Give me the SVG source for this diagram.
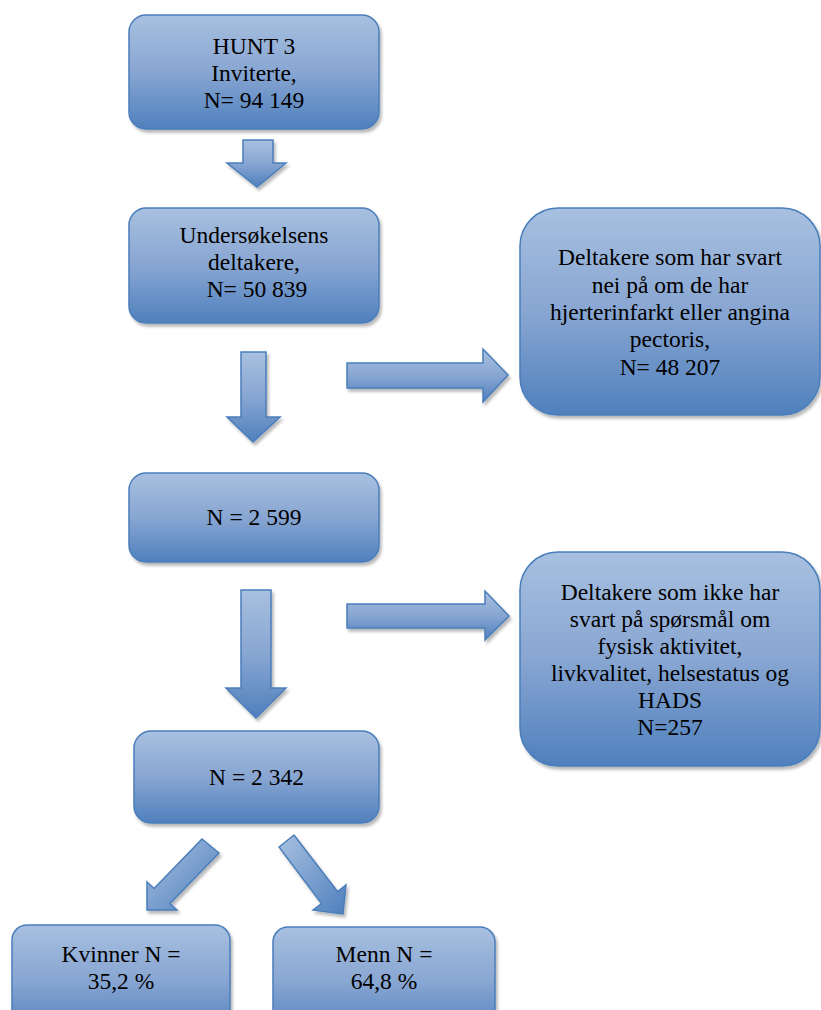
<svg xmlns="http://www.w3.org/2000/svg" width="821" height="1010" viewBox="0 0 821 1010">
<defs>
<linearGradient id="g" x1="0" y1="0" x2="0" y2="1">
<stop offset="0" stop-color="#a8c0e0"/>
<stop offset="0.5" stop-color="#88a6d2"/>
<stop offset="1" stop-color="#4f80bd"/>
</linearGradient>
<linearGradient id="ga" x1="0" y1="0" x2="1" y2="1">
<stop offset="0" stop-color="#a8c0e0"/>
<stop offset="1" stop-color="#4f80bd"/>
</linearGradient>
<filter id="sh" x="-10%" y="-10%" width="125%" height="130%">
<feGaussianBlur in="SourceAlpha" stdDeviation="1.5"/>
<feOffset dx="2" dy="3" result="b"/>
<feFlood flood-color="#000" flood-opacity="0.28"/>
<feComposite in2="b" operator="in"/>
<feMerge><feMergeNode/><feMergeNode in="SourceGraphic"/></feMerge>
</filter>
<style>
.box{fill:url(#g);stroke:#4a7ebb;stroke-width:1.5;filter:url(#sh)}
.arr{fill:url(#g);stroke:#4a7ebb;stroke-width:1.5;stroke-linejoin:miter;filter:url(#sh)}
.arrd{fill:url(#ga);stroke:#4a7ebb;stroke-width:1.5;filter:url(#sh)}
.t{font-family:'Liberation Serif','DejaVu Serif',serif;font-size:23.5px;fill:#000;text-anchor:middle}
</style>
</defs>
<rect width="821" height="1010" fill="#fff"/>
<g id="connectors">
<polygon class="arr" points="243,140 273,140 273,163 286,163 257,187 227,163 243,163"/>
<polygon class="arr" points="241,352 266,352 266,417 280,417 253,442 227,417 241,417"/>
<polygon class="arr" points="241,590 271,590 271,688 286,688 256,718 226,688 241,688"/>
<polygon class="arr" points="347,363 483,363 483,349 508,375 483,402 483,388 347,388"/>
<polygon class="arr" points="347,604 485,604 485,591 509,616 485,640 485,628 347,628"/>
<polygon class="arrd" points="202,839 219,853 170,903.5 177,910 147,910 147,882 154,888.5"/>
<polygon class="arrd" points="279,847 294,835 337.5,891.5 346,885 343,914 313,910 321.5,903.5"/>
</g>
<g id="n1">
<rect class="box" x="129" y="15" width="250" height="114" rx="17"/>
<text class="t" font-family="Liberation Serif, serif" x="254" y="54">HUNT 3</text>
<text class="t" font-family="Liberation Serif, serif" x="254" y="81">Inviterte,</text>
<text class="t" font-family="Liberation Serif, serif" x="254" y="108">N= 94 149</text>
</g>
<g id="n2">
<rect class="box" x="129" y="208" width="250" height="115" rx="17"/>
<text class="t" x="254" y="243">Undersøkelsens</text>
<text class="t" x="254" y="270">deltakere,</text>
<text class="t" x="257" y="297">N= 50 839</text>
</g>
<g id="n3">
<rect class="box" x="520" y="208" width="300" height="207" rx="38"/>
<text class="t" x="670" y="265">Deltakere som har svart</text>
<text class="t" x="670" y="293">nei på om de har</text>
<text class="t" x="670" y="320">hjerterinfarkt eller angina</text>
<text class="t" x="670" y="347">pectoris,</text>
<text class="t" x="670" y="375">N= 48 207</text>
</g>
<g id="n4">
<rect class="box" x="129" y="473" width="250" height="89" rx="17"/>
<text class="t" x="254" y="525">N = 2 599</text>
</g>
<g id="n5">
<rect class="box" x="520" y="552" width="300" height="214" rx="38"/>
<text class="t" x="670" y="600">Deltakere som ikke har</text>
<text class="t" x="670" y="627">svart på spørsmål om</text>
<text class="t" x="670" y="654">fysisk aktivitet,</text>
<text class="t" x="670" y="681">livkvalitet, helsestatus og</text>
<text class="t" x="670" y="708">HADS</text>
<text class="t" x="670" y="735">N=257</text>
</g>
<g id="n6">
<rect class="box" x="134" y="731" width="245" height="92" rx="17"/>
<text class="t" x="256.5" y="785">N = 2 342</text>
</g>
<g id="n7">
<rect class="box" x="12" y="925" width="218" height="110" rx="15"/>
<text class="t" x="121" y="962">Kvinner N =</text>
<text class="t" x="121" y="989">35,2 %</text>
</g>
<g id="n8">
<rect class="box" x="273" y="927" width="222" height="110" rx="15"/>
<text class="t" x="384" y="962">Menn N =</text>
<text class="t" x="384" y="989">64,8 %</text>
</g>
</svg>
